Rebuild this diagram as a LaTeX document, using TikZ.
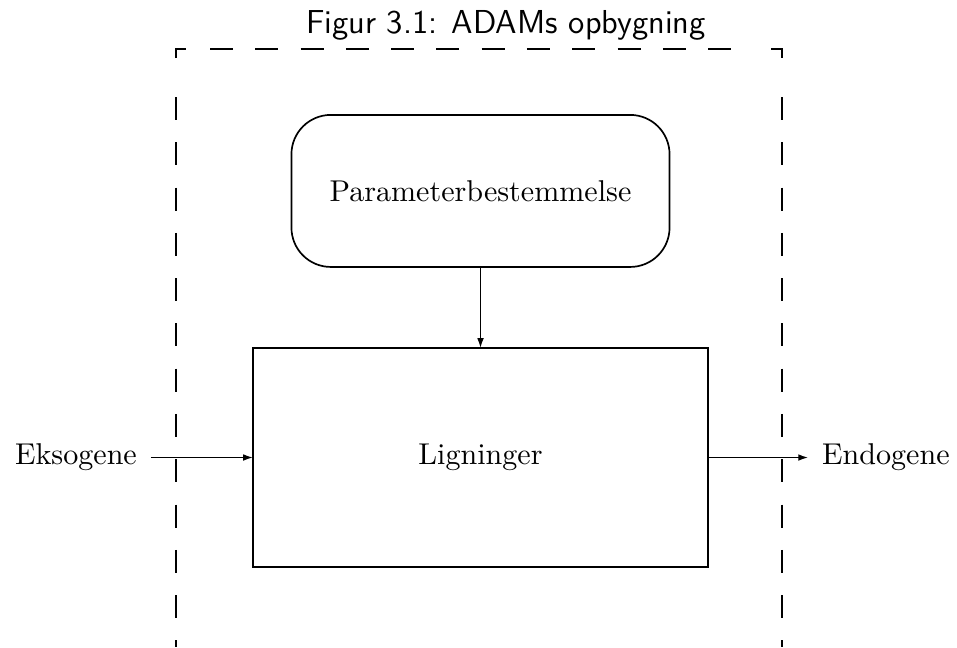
\documentclass[tikz,border=0pt]{standalone}
\usepackage{tikz}
\usetikzlibrary{arrows.meta, positioning}

\begin{document}
\begin{tikzpicture}[
  x=0.0125cm, y=-0.0125cm,
  node distance = 1.0125cm and 1.25cm,
  box/.style = {
    draw, line width=0.6pt, outer sep=0pt, align=center,
    font=\fontsize{10.7}{13}\selectfont
  },
  round box/.style = {box, rounded corners=14pt, minimum width=4.725cm, minimum height=1.9cm},
  eq box/.style    = {box, minimum width=5.6875cm, minimum height=2.7375cm},
  lbl/.style   = {font=\fontsize{10.7}{13}\selectfont, inner xsep=5pt, inner ysep=2pt, outer sep=0pt},
  title/.style = {font=\sffamily\fontsize{11.8}{14}\selectfont, inner sep=0pt},
  arr/.style   = {-{Latex[length=3.5pt,width=2.4pt]}, line width=0.5pt},
  frame/.style = {line width=0.6pt},
  frame dash/.style = {frame, dash pattern=on 8.2pt off 7.9pt},
]
\useasboundingbox (0,0) rectangle (957,647);

% equations and parameters
\node[eq box]    (lign)  at (480.5,457.5) {Ligninger};
\node[round box] (param) [above=of lign]  {Parameterbestemmelse};

% exogenous / endogenous
\node[lbl] (eks)  [left=1.275cm of lign]  {Eksogene};
\node[lbl] (endo) [right=1.25cm of lign]  {Endogene};

% arrows
\draw[arr] (param) -- (lign);
\draw[arr] (eks.east) -- (lign.west);
\draw[arr] (lign.east) -- (endo.west);

% dashed frame
\coordinate (fnw) at (176,49);
\coordinate (fne) at (782,49);
\coordinate (fsw) at (176,647);
\coordinate (fse) at (782,647);
\draw[frame] (176,58) -- (fnw) -- (186,49);
\draw[frame] (771,49) -- (fne) -- (782,58);
\draw[frame dash] (210,49) -- (740,49);
\draw[frame dash] (176,97) -- (fsw);
\draw[frame dash] (782,97) -- (fse);

\node[title, anchor=base] (fig) at (506,33) {Figur 3.1: ADAMs opbygning};

\end{tikzpicture}
\end{document}
